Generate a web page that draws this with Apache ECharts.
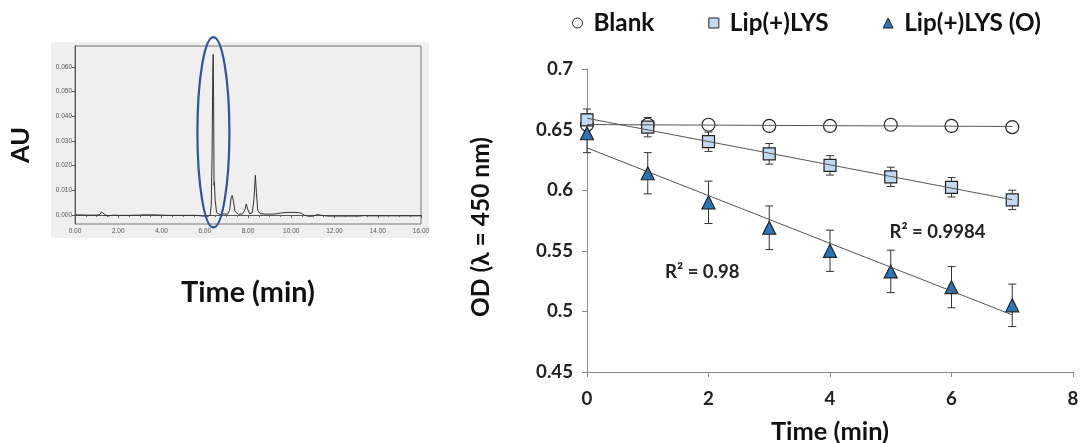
<!DOCTYPE html>
<html>
<head>
<meta charset="utf-8">
<script src="https://cdn.jsdelivr.net/npm/echarts@6/dist/echarts.min.js"></script>
<style>
html,body{margin:0;padding:0;background:#fff;}
#c{width:1080px;height:443px;}
</style>
</head>
<body>
<div id="c"></div>
<script>
// ---------- Chromatogram (left panel) ----------
const chromTime = [0.00,0.10,0.50,1.00,1.15,1.22,1.30,1.40,1.55,1.80,2.00,2.50,3.00,3.20,3.60,4.00,4.30,5.00,5.60,5.90,6.15,6.25,6.30,6.34,6.37,6.39,6.41,6.43,6.45,6.48,6.55,6.70,6.90,7.05,7.15,7.22,7.27,7.32,7.40,7.55,7.75,7.85,7.92,7.98,8.08,8.20,8.28,8.34,8.39,8.45,8.55,8.80,9.20,9.50,9.80,10.10,10.35,10.45,10.60,10.80,11.00,11.20,11.40,11.70,12.50,13.20,13.35,13.60,14.50,16.00];
const chromAU = [0.0002,0.0001,0.0000,0.0000,0.0002,0.0013,0.0008,0.0001,-0.0003,0.0000,-0.0001,-0.0001,0.0000,0.0001,0.0001,0.0000,-0.0001,-0.0001,-0.0001,-0.0004,-0.0005,0.0000,0.0040,0.0250,0.0570,0.0650,0.0460,0.0120,0.0135,0.0060,0.0010,0.0002,0.0005,0.0003,0.0020,0.0070,0.0080,0.0060,0.0015,0.0003,0.0005,0.0020,0.0045,0.0025,0.0005,0.0010,0.0070,0.0162,0.0090,0.0020,0.0006,0.0004,0.0004,0.0008,0.0011,0.0011,0.0010,0.0008,0.0000,-0.0005,-0.0004,0.0002,-0.0001,-0.0004,-0.0004,-0.0004,-0.0002,-0.0003,-0.0003,-0.0003];
const chromYTicks = [0.000,0.010,0.020,0.030,0.040,0.050,0.060];

// ---------- OD vs time (right panel) ----------
const times = [0,1,2,3,4,5,6,7];
const blank = [0.654,0.654,0.654,0.653,0.653,0.654,0.653,0.652];
const blankErr = [0.002,0.002,0.001,0.001,0.001,0.001,0.001,0.001];
const lip = [0.658,0.652,0.640,0.630,0.6205,0.611,0.6024,0.592];
const lipErr = [0.009,0.008,0.008,0.0085,0.008,0.008,0.008,0.008];
const lipO = [0.647,0.614,0.590,0.569,0.550,0.533,0.520,0.505];
const lipOErr = [0.016,0.017,0.0175,0.018,0.017,0.0175,0.017,0.0175];
const seriesNames = ['Blank','Lip(+)LYS','Lip(+)LYS (O)'];
const r2Labels = ['R² = 0.9984','R² = 0.98'];

const FONT = 'Lato';
const cv = document.createElement('canvas').getContext('2d');
function fit(text, w){ cv.font = 'bold 100px ' + FONT; return Math.round(100 * w / cv.measureText(text).width * 10) / 10; }

function regress(xs, ys){
  const n = xs.length;
  const mx = xs.reduce((a,b)=>a+b,0)/n, my = ys.reduce((a,b)=>a+b,0)/n;
  let sxy=0, sxx=0;
  for(let i=0;i<n;i++){ sxy+=(xs[i]-mx)*(ys[i]-my); sxx+=(xs[i]-mx)*(xs[i]-mx); }
  const b = sxy/sxx, a = my - b*mx;
  return [[xs[0], a + b*xs[0]], [xs[n-1], a + b*xs[n-1]]];
}

const chart = echarts.init(document.getElementById('c'), null, {renderer:'canvas'});

const legendSize = fit('Lip(+)LYS (O)', 137);
const tickSize = fit('0.65', 37);
const odNameSize = fit('OD (λ = 450 nm)', 180);
const timeNameSize = fit('Time (min)', 118);
const leftTimeSize = fit('Time (min)', 134);
const auSize = fit('AU', 36);
const r2Size = fit('R² = 0.9984', 96);

function errSeries(vals, errs){
  return {
    type:'custom', xAxisIndex:1, yAxisIndex:1, z:3, silent:true,
    data: times.map((t,i)=>[t, vals[i]-errs[i], vals[i]+errs[i]]),
    renderItem(params, api){
      const x = api.value(0);
      const lo = api.coord([x, api.value(1)]);
      const hi = api.coord([x, api.value(2)]);
      const w = 4;
      const st = {stroke:'#333', lineWidth:1};
      return {type:'group', children:[
        {type:'line', shape:{x1:lo[0],y1:lo[1],x2:hi[0],y2:hi[1]}, style:st},
        {type:'line', shape:{x1:lo[0]-w,y1:lo[1],x2:lo[0]+w,y2:lo[1]}, style:st},
        {type:'line', shape:{x1:hi[0]-w,y1:hi[1],x2:hi[0]+w,y2:hi[1]}, style:st}
      ]};
    }
  };
}
function trend(vals){
  return {type:'line', xAxisIndex:1, yAxisIndex:1, z:6, silent:true, symbol:'none',
    lineStyle:{color:'#555', width:1}, data: regress(times, vals)};
}
function scatter(name, vals, symbol, size, fill){
  return {type:'scatter', name, xAxisIndex:1, yAxisIndex:1, z:5, symbol, symbolSize:size,
    itemStyle:{color:fill, borderColor:'#222', borderWidth:1.2, opacity:1},
    data: times.map((t,i)=>[t, vals[i]])};
}

const option = {
  animation:false,
  backgroundColor:'#fff',
  textStyle:{fontFamily:FONT},
  legend:{
    left:567, top:6, itemGap:54, itemWidth:10, itemHeight:10,
    data: seriesNames,
    itemStyle:{borderWidth:1},
    textStyle:{fontSize:legendSize, fontWeight:'bold', color:'#111', fontFamily:FONT, padding:[0,0,0,6]}
  },
  grid:[
    {left:75, top:46, width:346, height:178, show:true, backgroundColor:'#efefef', borderColor:'#777', borderWidth:1, outerBoundsMode:'none', containLabel:false},
    {left:587, top:69, width:486, height:303, outerBoundsMode:'none', containLabel:false}
  ],
  xAxis:[
    {gridIndex:0, type:'value', min:0, max:16, interval:2,
     axisLine:{lineStyle:{color:'#555'}}, axisTick:{show:true, length:3, lineStyle:{color:'#555'}},
     minorTick:{show:true, splitNumber:4, length:2, lineStyle:{color:'#666'}},
     splitLine:{show:false},
     axisLabel:{fontSize:6.5, color:'#555', margin:4, formatter:v=>v.toFixed(2), fontFamily:'Liberation Sans'},
     name:'Time (min)', nameLocation:'middle', nameGap:54,
     nameTextStyle:{fontSize:leftTimeSize, fontWeight:'bold', color:'#111', fontFamily:FONT}},
    {gridIndex:1, type:'value', min:0, max:8, interval:2,
     axisLine:{lineStyle:{color:'#888'}}, axisTick:{show:true, inside:false, length:5, lineStyle:{color:'#888'}},
     splitLine:{show:false},
     axisLabel:{fontSize:tickSize, fontWeight:'bold', color:'#222', margin:17, fontFamily:FONT},
     name:'Time (min)', nameLocation:'middle', nameGap:47,
     nameTextStyle:{fontSize:timeNameSize, fontWeight:'bold', color:'#111', fontFamily:FONT}}
  ],
  yAxis:[
    {gridIndex:0, type:'value', min:-0.0036, max:0.0684,
     axisLine:{show:true, lineStyle:{color:'#555'}},
     axisTick:{show:true, length:3, customValues:chromYTicks, lineStyle:{color:'#555'}},
     splitLine:{show:false},
     axisLabel:{fontSize:6.5, color:'#555', margin:3, customValues:chromYTicks, formatter:v=>v.toFixed(3), fontFamily:'Liberation Sans'},
     name:'AU', nameLocation:'middle', nameGap:42,
     nameTextStyle:{fontSize:auSize, fontWeight:'bold', color:'#111', fontFamily:FONT, padding:[0,20,0,0]}},
    {gridIndex:1, type:'value', min:0.45, max:0.7, interval:0.05,
     axisLine:{show:true, lineStyle:{color:'#888'}}, axisTick:{show:true, length:5, lineStyle:{color:'#888'}},
     splitLine:{show:false},
     axisLabel:{fontSize:tickSize, fontWeight:'bold', color:'#222', margin:14, fontFamily:FONT,
       formatter:v=>String(parseFloat(v.toFixed(2)))},
     name:'OD (λ = 450 nm)', nameLocation:'middle', nameGap:93,
     nameTextStyle:{fontSize:odNameSize, fontWeight:'bold', color:'#111', fontFamily:FONT, padding:[0,13,0,0]}}
  ],
  series:[
    {type:'line', xAxisIndex:0, yAxisIndex:0, symbol:'none', silent:true, z:4,
     lineStyle:{color:'#333', width:1}, data: chromTime.map((t,i)=>[t, chromAU[i]])},
    errSeries(blank, blankErr), errSeries(lip, lipErr), errSeries(lipO, lipOErr),
    scatter(seriesNames[0], blank, 'circle', 13, '#ffffff'),
    scatter(seriesNames[1], lip, 'rect', 12, '#c3d9ef'),
    scatter(seriesNames[2], lipO, 'triangle', 13, '#2e75b6'),
    trend(blank), trend(lip), trend(lipO)
  ]
};
chart.setOption(option);

// Annotations placed via data coordinates
const ec = chart.convertToPixel({gridIndex:0}, [6.4, 0.0335]);
const ex = chart.convertToPixel({gridIndex:0}, [7.14, 0.0720]);
const r2a = chart.convertToPixel({gridIndex:1}, [4.98, 0.5658]);
const r2b = chart.convertToPixel({gridIndex:1}, [1.285, 0.5328]);
chart.setOption({
  graphic:[
    {type:'rect', z:-10, silent:true, shape:{x:51, y:42, width:378, height:196}, style:{fill:'#efefef'}},
    {type:'ellipse', z:100, silent:true, shape:{cx:ec[0], cy:ec[1], rx:ex[0]-ec[0], ry:ec[1]-ex[1]},
     style:{fill:'none', stroke:'#2f5597', lineWidth:2.2}},
    {type:'text', z:100, silent:true, x:r2a[0], y:r2a[1],
     style:{text:r2Labels[0], fontSize:r2Size, fontWeight:'bold', fontFamily:FONT, fill:'#222', verticalAlign:'middle', align:'left'}},
    {type:'text', z:100, silent:true, x:r2b[0], y:r2b[1],
     style:{text:r2Labels[1], fontSize:r2Size, fontWeight:'bold', fontFamily:FONT, fill:'#222', verticalAlign:'middle', align:'left'}}
  ]
});
</script>
</body>
</html>
